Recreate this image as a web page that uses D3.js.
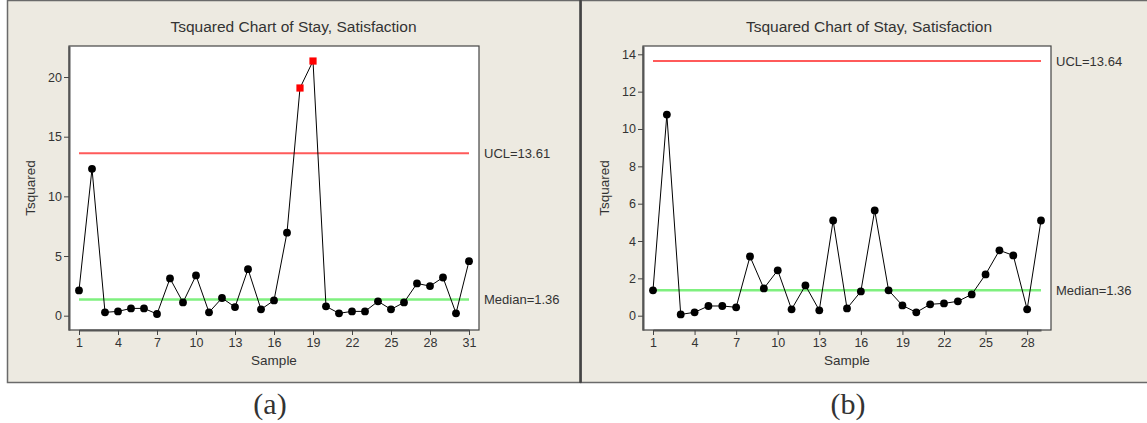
<!DOCTYPE html>
<html>
<head>
<meta charset="utf-8">
<script src="https://cdn.jsdelivr.net/npm/d3@7"></script>
<style>
  html, body { margin: 0; padding: 0; background: #ffffff; }
  svg { display: block; }
  text { font-family: "Liberation Sans", Arial, sans-serif; fill: #333; }
</style>
</head>
<body>
<svg id="chart" width="1147" height="423"></svg>
<script>
// ---- Data ----
const titleText = "Tsquared Chart of Stay, Satisfaction";
const samplesA = d3.range(1, 32);
const valuesA = [2.12, 12.31, 0.28, 0.36, 0.61, 0.61, 0.14, 3.12, 1.11, 3.37,
                 0.28, 1.48, 0.72, 3.90, 0.53, 1.28, 6.96, 19.08, 21.34, 0.78,
                 0.20, 0.36, 0.36, 1.20, 0.53, 1.11, 2.70, 2.48, 3.20, 0.20, 4.57];
const uclA = 13.61;
const medianA = 1.36;
const yTicksA = [0, 5, 10, 15, 20];
const xTicksA = [1, 4, 7, 10, 13, 16, 19, 22, 25, 28, 31];

const samplesB = d3.range(1, 30);
const valuesB = [1.36, 10.77, 0.07, 0.18, 0.52, 0.52, 0.45, 3.17, 1.46, 2.43,
                 0.34, 1.62, 0.29, 5.10, 0.39, 1.30, 5.64, 1.36, 0.55, 0.18,
                 0.61, 0.66, 0.77, 1.14, 2.21, 3.50, 3.23, 0.34, 5.10];
const uclB = 13.64;
const medianB = 1.36;
const yTicksB = [0, 2, 4, 6, 8, 10, 12, 14];
const xTicksB = [1, 4, 7, 10, 13, 16, 19, 22, 25, 28];

const subLabels = ["(a)", "(b)"];

// ---- Drawing ----
const svg = d3.select("#chart");
svg.append("rect").attr("width", 1147).attr("height", 423).attr("fill", "#ffffff");

// panels
svg.append("rect").attr("x", 7.5).attr("y", 0.5).attr("width", 573).attr("height", 382)
  .attr("fill", "#EDEAE1").attr("stroke", "#6a6a6a").attr("stroke-width", 1.5);
svg.append("rect").attr("x", 581).attr("y", 0.5).attr("width", 600).attr("height", 382)
  .attr("fill", "#EDEAE1").attr("stroke", "#6a6a6a").attr("stroke-width", 1.5);
svg.append("line").attr("x1", 580.5).attr("x2", 580.5).attr("y1", 0).attr("y2", 383)
  .attr("stroke", "#444").attr("stroke-width", 2.5);

function drawChart(cfg) {
  const g = svg.append("g");
  const x = d3.scaleLinear().domain([1, cfg.samples.length])
    .range([cfg.pl + 10, cfg.pr - 10]);
  const y = d3.scaleLinear().domain(cfg.yDomain).range([cfg.pb, cfg.pt]);

  // plot area
  g.append("rect").attr("x", cfg.pl).attr("y", cfg.pt)
    .attr("width", cfg.pr - cfg.pl).attr("height", cfg.pb - cfg.pt)
    .attr("fill", "#ffffff").attr("stroke", "#444").attr("stroke-width", 1.2);

  // axes
  const ya = g.append("g").attr("transform", `translate(${cfg.pl},0)`)
    .call(d3.axisLeft(y).tickValues(cfg.yTicks).tickSize(5).tickPadding(2).tickSizeOuter(0));
  const xa = g.append("g").attr("transform", `translate(0,${cfg.pb})`)
    .call(d3.axisBottom(x).tickValues(cfg.xTicks).tickSize(5).tickPadding(3).tickSizeOuter(0));
  [ya, xa].forEach(a => {
    a.select(".domain").attr("stroke", "#555").attr("stroke-width", 2);
    a.selectAll(".tick line").attr("stroke", "#444");
    a.selectAll(".tick text").style("font-family", "Liberation Sans, Arial, sans-serif")
      .style("font-size", "12.5px").attr("fill", "#333");
  });

  // control lines
  const x1 = x(1), xn = x(cfg.samples.length);
  g.append("line").attr("x1", x1).attr("x2", xn).attr("y1", y(cfg.ucl)).attr("y2", y(cfg.ucl))
    .attr("stroke", "#FF5A5A").attr("stroke-width", 2);
  g.append("line").attr("x1", x1).attr("x2", xn).attr("y1", y(cfg.median)).attr("y2", y(cfg.median))
    .attr("stroke", "#7FF07F").attr("stroke-width", 2.5);

  // series
  const pts = cfg.samples.map((s, i) => ({ s, v: cfg.values[i] }));
  g.append("path").datum(pts)
    .attr("d", d3.line().x(d => x(d.s)).y(d => y(d.v)))
    .attr("fill", "none").attr("stroke", "#000").attr("stroke-width", 1);
  g.selectAll("circle.pt").data(pts.filter(d => d.v <= cfg.ucl)).join("circle")
    .attr("class", "pt").attr("cx", d => x(d.s)).attr("cy", d => y(d.v)).attr("r", 3.9)
    .attr("fill", "#000");
  g.selectAll("rect.out").data(pts.filter(d => d.v > cfg.ucl)).join("rect")
    .attr("class", "out").attr("x", d => x(d.s) - 3.6).attr("y", d => y(d.v) - 3.6)
    .attr("width", 7.2).attr("height", 7.2).attr("fill", "#FF0000");

  // labels at right
  g.append("text").attr("x", cfg.pr + 5).attr("y", y(cfg.ucl)).attr("dy", "0.35em")
    .style("font-size", "13px").text("UCL=" + cfg.ucl.toFixed(2));
  g.append("text").attr("x", cfg.pr + 5).attr("y", y(cfg.median)).attr("dy", "0.35em")
    .style("font-size", "13px").text("Median=" + cfg.median.toFixed(2));

  // titles
  g.append("text").attr("x", cfg.titleX).attr("y", 32).attr("text-anchor", "middle")
    .style("font-size", "15.5px").text(titleText);
  g.append("text").attr("x", (cfg.pl + cfg.pr) / 2).attr("y", 365).attr("text-anchor", "middle")
    .style("font-size", "13.5px").text("Sample");
  g.append("text").attr("transform", `translate(${cfg.yLabX},${(cfg.pt + cfg.pb) / 2}) rotate(-90)`)
    .attr("text-anchor", "middle").style("font-size", "13.5px").text("Tsquared");

  // sub label
  g.append("text").attr("x", cfg.subX).attr("y", 414).attr("text-anchor", "middle")
    .style("font-family", "Liberation Serif, Times New Roman, serif").style("font-size", "30px")
    .attr("fill", "#000").text(cfg.sub);
}

drawChart({
  samples: samplesA, values: valuesA, ucl: uclA, median: medianA,
  yTicks: yTicksA, xTicks: xTicksA, yDomain: [-1.2, 22.6],
  pl: 69, pr: 479, pt: 46, pb: 330, titleX: 293.5, yLabX: 35, subX: 270, sub: subLabels[0]
});
drawChart({
  samples: samplesB, values: valuesB, ucl: uclB, median: medianB,
  yTicks: yTicksB, xTicks: xTicksB, yDomain: [-0.766, 14.445],
  pl: 643, pr: 1051, pt: 46, pb: 330, titleX: 869, yLabX: 609, subX: 848, sub: subLabels[1]
});
</script>
</body>
</html>
